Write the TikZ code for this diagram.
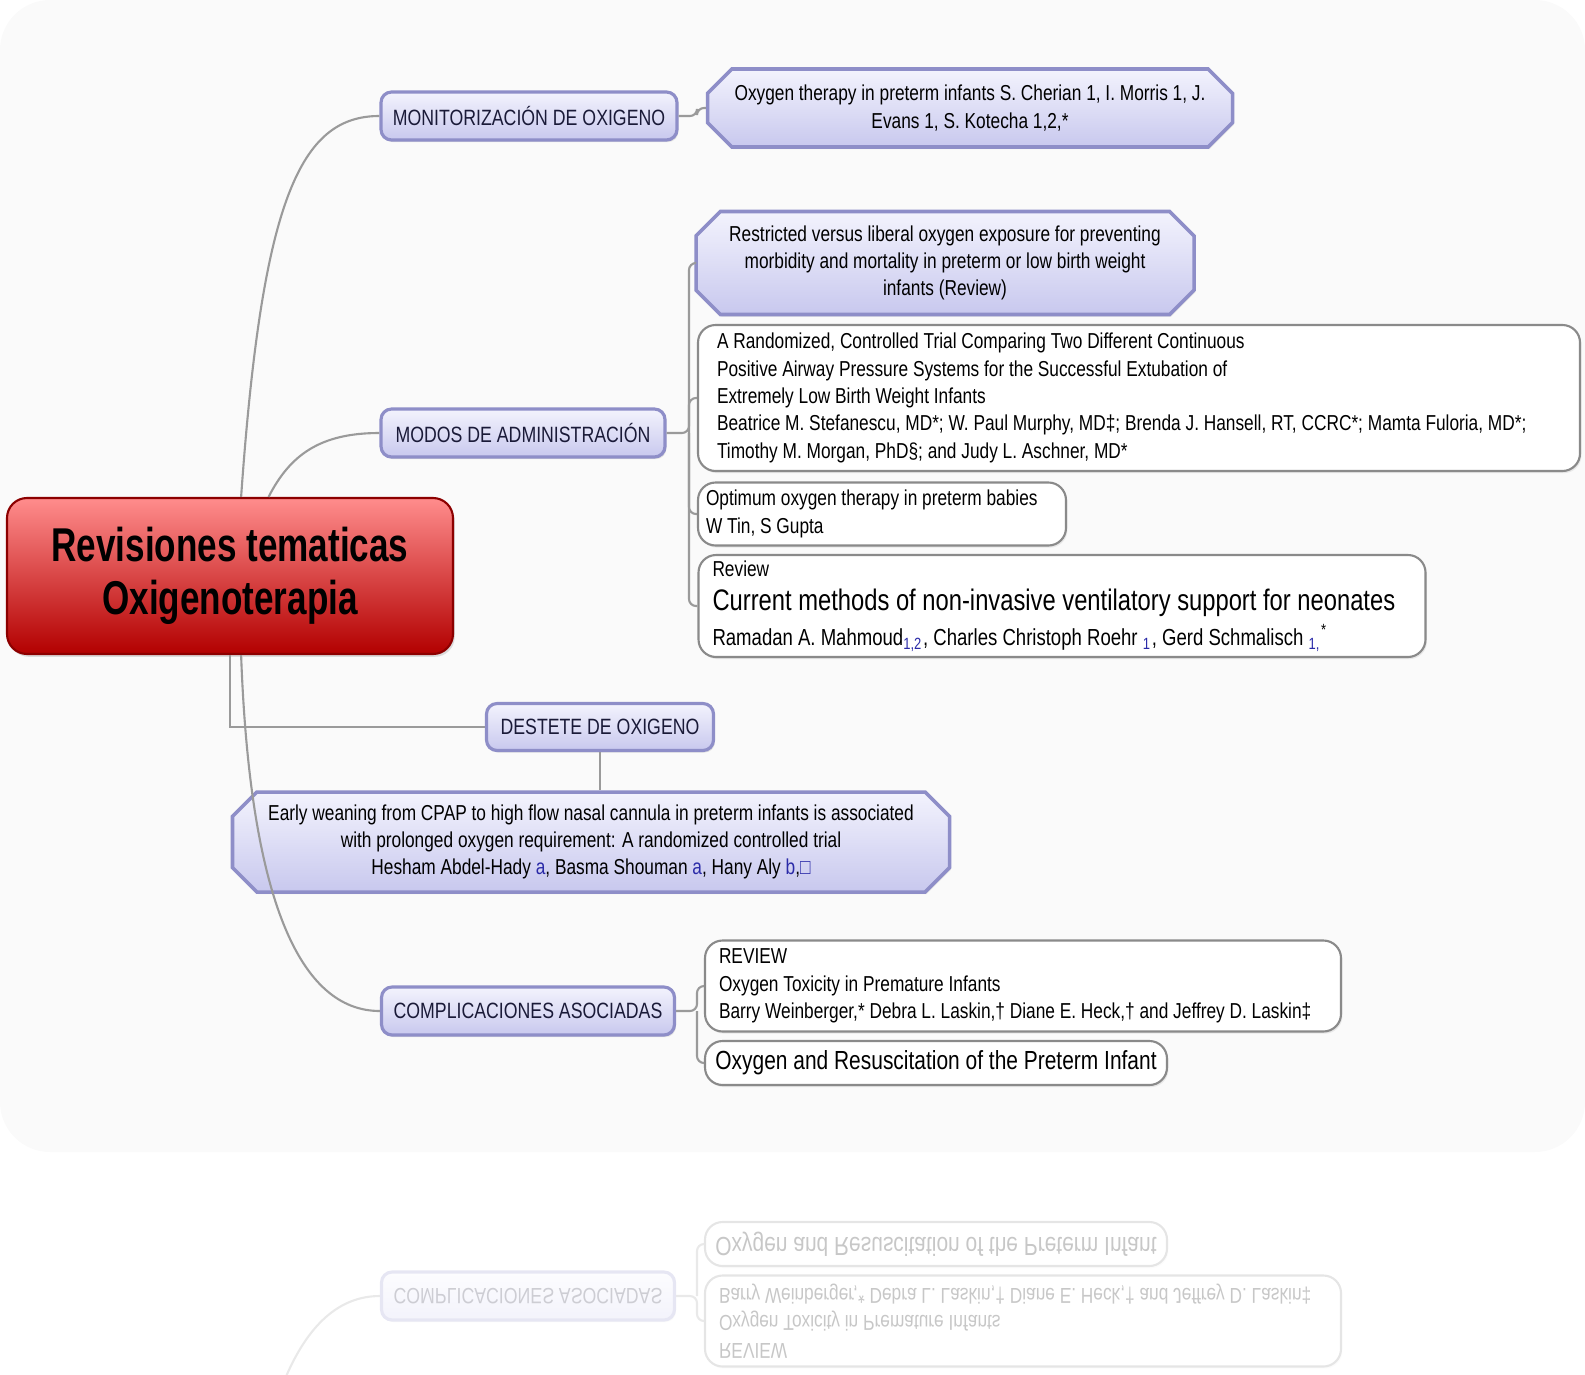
\documentclass[tikz,border=0pt]{standalone}
\usepackage{fontspec}
\setmainfont{Liberation Sans}[FakeStretch=0.8]
\newfontfamily\titlefont{Liberation Sans}[FakeStretch=0.74]
\usepackage{tikz}
\usetikzlibrary{shapes.misc, shadows}

\definecolor{lavtop}{HTML}{F3F3FD}
\definecolor{lavbot}{HTML}{C8C8EE}
\definecolor{lavline}{HTML}{8E8EC8}
\definecolor{linkgray}{HTML}{9A9A9A}
\definecolor{boxgray}{HTML}{8A8A8A}
\definecolor{refblue}{HTML}{2A2AA8}
\definecolor{topicink}{HTML}{1A1A38}

\newcommand{\reffont}{\fontsize{6.15}{7.77}\selectfont}
\newcommand{\bigref}{\fontsize{8.45}{10}\selectfont}

%% branch "complicaciones" (drawn twice: once normal, once as the reflection)
\newcommand{\complicpart}[1]{%
  \node[topic] at (5.28,-10.11) (#1complic) {COMPLICACIONES ASOCIADAS};
  \node[plainbox, minimum width=6.36cm, minimum height=0.91cm, text width=6.08cm]
    at (10.23,-9.86) (#1toxic)
    {REVIEW\\Oxygen Toxicity in Premature Infants\\
     Barry Weinberger,* Debra L. Laskin,† Diane E. Heck,† and Jeffrey D. Laskin‡};
  \node[plainbox, minimum width=4.62cm, minimum height=0.44cm,
        font=\fontsize{7.45}{9}\selectfont] at (9.36,-10.63) (#1resusc)
    {Oxygen and Resuscitation of the Preterm Infant};
  \coordinate (#1jc) at (6.97,-10.11);
  \draw[branch] (#1complic.east) -- (#1jc) |- (#1toxic.west);
  \draw[branch] (#1jc) |- (#1resusc.west);
}

\begin{document}
\begin{tikzpicture}[
  topic/.style={rectangle, rounded corners=3pt, draw=lavline, line width=0.9pt,
                top color=lavtop, bottom color=lavbot, minimum width=2.93cm,
                minimum height=0.48cm, inner sep=0pt, text=topicink,
                font=\fontsize{6.3}{7.7}\selectfont,
                drop shadow={shadow xshift=0.4pt, shadow yshift=-0.6pt, opacity=0.2}},
  chamf/.style={chamfered rectangle, chamfered rectangle xsep=0.12cm,
                draw=lavline, line width=1pt, top color=lavtop, bottom color=lavbot,
                align=center, inner sep=0pt, font=\reffont,
                drop shadow={shadow xshift=0.4pt, shadow yshift=-0.6pt, opacity=0.2}},
  plainbox/.style={rectangle, rounded corners=5pt, draw=boxgray, line width=0.6pt,
                fill=white, align=flush left, inner sep=0pt, font=\reffont,
                drop shadow={shadow xshift=0.4pt, shadow yshift=-0.6pt, opacity=0.15}},
  central/.style={rectangle, rounded corners=0.2cm, draw=red!55!black, line width=0.6pt,
                top color=red!45!white, middle color=red, bottom color=red!70!black,
                minimum width=4.46cm, minimum height=1.56cm, align=center,
                font=\titlefont\fontsize{13.5}{15.25}\selectfont\bfseries,
                drop shadow={shadow xshift=0.5pt, shadow yshift=-0.8pt, opacity=0.25}},
  link/.style={draw=linkgray, line width=0.6pt},
  branch/.style={link, rounded corners=2pt}
]
\useasboundingbox (0,0) rectangle (15.85,-13.74);
\fill[black!2, rounded corners=0.5cm] (0,0) rectangle (15.85,-11.52);

%% central topic
\node[central] at (2.30,-5.76) (central) {Revisiones tematicas\\Oxigenoterapia};

%% main topics
\node[topic, minimum width=2.96cm] at (5.29,-1.16) (monitor) {MONITORIZACIÓN DE OXIGENO};
\node[topic, minimum width=2.84cm] at (5.23,-4.33) (modos) {MODOS DE ADMINISTRACIÓN};
\node[topic, minimum width=2.27cm, minimum height=0.47cm] at (6.00,-7.27) (destete) {DESTETE DE OXIGENO};

%% references
\node[chamf, minimum width=5.25cm, minimum height=0.78cm] at (9.70,-1.08) (oxther)
  {Oxygen therapy in preterm infants S. Cherian 1, I. Morris 1, J.\\Evans 1, S. Kotecha 1,2,*};
\node[chamf, minimum width=4.98cm, minimum height=1.03cm] at (9.45,-2.63) (restr)
  {Restricted versus liberal oxygen exposure for preventing\\
   morbidity and mortality in preterm or low birth weight\\infants (Review)};
\node[plainbox, minimum width=8.82cm, minimum height=1.46cm, text width=8.44cm]
  at (11.39,-3.98) (random)
  {A Randomized, Controlled Trial Comparing Two Different Continuous\\
   Positive Airway Pressure Systems for the Successful Extubation of\\
   Extremely Low Birth Weight Infants\\
   Beatrice M. Stefanescu, MD*; W. Paul Murphy, MD‡; Brenda J. Hansell, RT, CCRC*; Mamta Fuloria, MD*;\\
   Timothy M. Morgan, PhD§; and Judy L. Aschner, MD*};
\node[plainbox, minimum width=3.68cm, minimum height=0.63cm, text width=3.52cm]
  at (8.82,-5.14) (optimum)
  {Optimum oxygen therapy in preterm babies\\W Tin, S Gupta};
\node[plainbox, minimum width=7.27cm, minimum height=1.02cm, text width=6.99cm]
  at (10.62,-6.06) (review)
  {Review\\[2pt]
   {\bigref Current methods of non-invasive ventilatory support for neonates}\\[1pt]
   {\fontsize{6.6}{7.8}\selectfont Ramadan A. Mahmoud\textsubscript{\color{refblue}1,2}, Charles Christoph Roehr
   \textsubscript{\color{refblue}1}, Gerd Schmalisch \textsubscript{\color{refblue}1,}\textsuperscript{*}}};
\node[chamf, minimum width=7.17cm, minimum height=1.00cm] at (5.91,-8.42) (early)
  {Early weaning from CPAP to high flow nasal cannula in preterm infants is associated\\
   with prolonged oxygen requirement: A randomized controlled trial\\
   Hesham Abdel-Hady {\color{refblue}a}, Basma Shouman {\color{refblue}a},
   Hany Aly {\color{refblue}b},{\color{refblue}□}};

%% complicaciones branch
\complicpart{}

%% connectors
\coordinate (jt) at (6.97,-1.16);
\coordinate (jm) at (6.89,-4.33);
\draw[link] (central.82) .. controls (2.62,-2.00) and (3.00,-1.16) .. (monitor.west);
\draw[link] (central.64) .. controls (2.90,-4.55) and (3.20,-4.33) .. (modos.west);
\draw[link] (central.south) |- (destete.west);
\draw[link] (destete.south) -- (destete.south |- early.north);
\draw[link] (central.-82) .. controls (2.50,-9.00) and (3.00,-10.11) .. (complic.west);
\draw[branch] (monitor.east) -- (jt) |- (oxther.west);
\draw[branch] (modos.east) -- (jm) |- (restr.west);
\foreach \ref in {random, optimum, review}
  \draw[branch] (jm) |- (\ref.west);

%% reflection
\begin{scope}
  \clip (0,-11.55) rectangle (15.85,-13.74);
  \begin{scope}[yshift=-23.07cm, yscale=-1, transform shape, transparency group, opacity=0.22]
    \complicpart{r}
    \coordinate (rroot) at (2.39,-6.54);
    \draw[link] (rroot) .. controls (2.50,-9.00) and (3.00,-10.11) .. (rcomplic.west);
  \end{scope}
\end{scope}
\end{tikzpicture}
\end{document}
